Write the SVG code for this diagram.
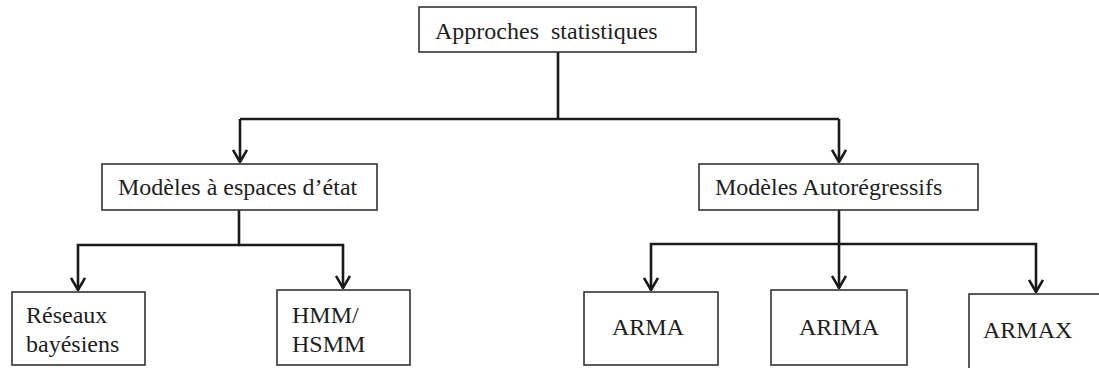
<svg xmlns="http://www.w3.org/2000/svg" width="1099" height="368" viewBox="0 0 1099 368">
  <style>
    .box { fill: #ffffff; stroke: #333333; stroke-width: 1.6; }
    .wire { fill: none; stroke: #1a1a1a; stroke-width: 2.6; }
    text { font-family: "Liberation Serif", "DejaVu Serif", serif; font-size: 24px; fill: #1e1e1e; }
  </style>
  <defs>
    <!-- open V arrowhead, drawn along +x so orient="auto" turns it with the line -->
    <marker id="arrow" viewBox="0 0 16 16" refX="15" refY="8" markerWidth="16" markerHeight="16" markerUnits="userSpaceOnUse" orient="auto">
      <path d="M3 1 L15 8 L3 15" fill="none" stroke="#1a1a1a" stroke-width="2.6"/>
    </marker>
  </defs>
  <rect width="1099" height="368" fill="#ffffff"/>

  <!-- connectors -->
  <g id="connectors" class="wire">
    <path d="M558 52 V119"/>
    <path d="M558 119 H839"/>
    <path d="M558 119 H240"/>
    <path d="M240 119 V162" marker-end="url(#arrow)"/>
    <path d="M839 119 V162" marker-end="url(#arrow)"/>
    <path d="M239 210 V245 H78 V290" marker-end="url(#arrow)"/>
    <path d="M239 245 H343 V288" marker-end="url(#arrow)"/>
    <path d="M839 210 V288" marker-end="url(#arrow)"/>
    <path d="M839 244 H651 V290" marker-end="url(#arrow)"/>
    <path d="M839 244 H1036 V292" marker-end="url(#arrow)"/>
  </g>

  <g id="approches">
    <rect class="box" x="419" y="7" width="277" height="45"/>
    <text x="435" y="39" xml:space="preserve">Approches  statistiques</text>
  </g>

  <g id="espaces-etat">
    <rect class="box" x="102" y="164" width="275" height="46"/>
    <text x="118" y="195">Modèles à espaces d’état</text>
  </g>

  <g id="autoregressifs">
    <rect class="box" x="699" y="164" width="279" height="46"/>
    <text x="715" y="195">Modèles Autorégressifs</text>
  </g>

  <g id="reseaux">
    <rect class="box" x="12" y="292" width="133" height="73"/>
    <text x="26" y="323">Réseaux</text>
    <text x="26" y="352">bayésiens</text>
  </g>

  <g id="hmm">
    <rect class="box" x="277" y="290" width="133" height="75"/>
    <text x="292" y="323">HMM/</text>
    <text x="292" y="352">HSMM</text>
  </g>

  <g id="arma">
    <rect class="box" x="584" y="292" width="134" height="73"/>
    <text x="612" y="335">ARMA</text>
  </g>

  <g id="arima">
    <rect class="box" x="771" y="290" width="136" height="75"/>
    <text x="799" y="335">ARIMA</text>
  </g>

  <g id="armax">
    <rect class="box" x="969" y="294" width="140" height="80"/>
    <text x="983" y="338">ARMAX</text>
  </g>
</svg>
